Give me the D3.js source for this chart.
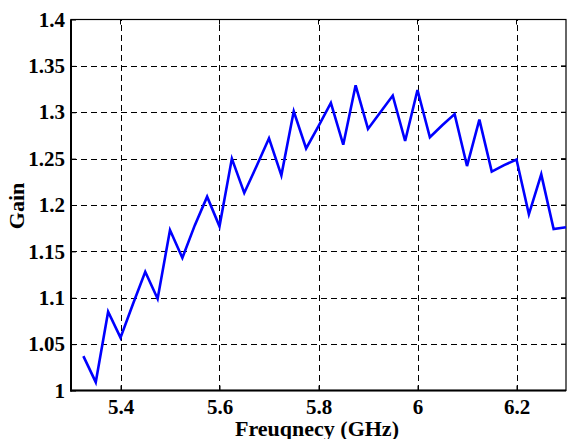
<!DOCTYPE html>
<html>
<head>
<meta charset="utf-8">
<script src="https://cdn.jsdelivr.net/npm/d3@7"></script>
<style>
  body { margin: 0; background: #fff; }
  svg text { font-family: "Liberation Serif", "Times New Roman", serif; font-weight: bold; }
</style>
</head>
<body>
<div id="chart"></div>
<script>
// frequency points (GHz)
const freq = d3.range(40).map(i => +(5.325 + i * 0.025).toFixed(3));
// gain
const gain = [
  1.037, 1.009, 1.085, 1.057, 1.093, 1.128, 1.099, 1.173, 1.143, 1.178,
  1.209, 1.177, 1.250, 1.213, 1.242, 1.272, 1.232, 1.301, 1.261, 1.285,
  1.310, 1.265, 1.329, 1.282, 1.300, 1.318, 1.269, 1.324, 1.273, 1.286,
  1.298, 1.242, 1.292, 1.236, 1.243, 1.249, 1.190, 1.233, 1.174, 1.176
];
const xTicks = [5.4, 5.6, 5.8, 6, 6.2];
const yTicks = [1, 1.05, 1.1, 1.15, 1.2, 1.25, 1.3, 1.35, 1.4];

const W = 567, H = 439;
const m = { left: 71, top: 19.5, right: 1, bottom: 48.5 };

const svg = d3.select("#chart").append("svg")
  .attr("width", W).attr("height", H);

const x = d3.scaleLinear().domain([5.3, 6.3]).range([m.left, W - m.right]);
const y = d3.scaleLinear().domain([1, 1.4]).range([H - m.bottom, m.top]);

//------- grid
const grid = svg.append("g").attr("stroke", "#000").attr("stroke-width", 1)
  .attr("stroke-dasharray", "6,4").attr("shape-rendering", "crispEdges");
grid.selectAll(".gx").data(xTicks).enter().append("line")
  .attr("x1", d => Math.round(x(d)) + 0.5).attr("x2", d => Math.round(x(d)) + 0.5)
  .attr("y1", y(1)).attr("y2", y(1.4));
grid.selectAll(".gy").data(yTicks.slice(1, -1)).enter().append("line")
  .attr("y1", d => Math.round(y(d)) + 0.5).attr("y2", d => Math.round(y(d)) + 0.5)
  .attr("x1", x(5.3)).attr("x2", x(6.3));

//------- axes
const xAxis = d3.axisBottom(x).tickValues(xTicks).tickSizeInner(-5).tickSizeOuter(0)
  .tickPadding(23).tickFormat(d3.format("~g"));
const yAxis = d3.axisLeft(y).tickValues(yTicks).tickSizeInner(-5).tickSizeOuter(0)
  .tickPadding(6).tickFormat(d3.format("~g"));

const gx = svg.append("g").attr("transform", `translate(0,${y(1)})`).call(xAxis);
const gy = svg.append("g").attr("transform", `translate(${x(5.3)},0)`).call(yAxis);
[gx, gy].forEach(g => {
  g.select(".domain").remove();
  g.selectAll("line").attr("stroke", "#000");
  g.selectAll("text").attr("font-size", 21).attr("fill", "#000")
    .style("font-family", '"Liberation Serif", serif').style("font-weight", "bold");
});
gx.selectAll("text").attr("dy", 0);

// right/top ticks (inside)
svg.append("g").selectAll("line").data(yTicks).enter().append("line")
  .attr("x1", x(6.3)).attr("x2", x(6.3) - 5)
  .attr("y1", d => y(d)).attr("y2", d => y(d)).attr("stroke", "#000");
svg.append("g").selectAll("line").data(xTicks).enter().append("line")
  .attr("y1", y(1.4)).attr("y2", y(1.4) + 5)
  .attr("x1", d => x(d)).attr("x2", d => x(d)).attr("stroke", "#000");

// box
svg.append("rect")
  .attr("x", x(5.3)).attr("y", y(1.4))
  .attr("width", x(6.3) - x(5.3)).attr("height", y(1) - y(1.4))
  .attr("fill", "none").attr("stroke", "#000").attr("stroke-width", 1.2);
svg.append("line").attr("x1", x(5.3)).attr("x2", x(5.3)).attr("y1", y(1.4)).attr("y2", y(1) + 1)
  .attr("stroke", "#000").attr("stroke-width", 2);
svg.append("line").attr("x1", x(5.3) - 1).attr("x2", x(6.3)).attr("y1", y(1)).attr("y2", y(1))
  .attr("stroke", "#000").attr("stroke-width", 2);

//------- data line
const line = d3.line().x((d, i) => x(freq[i])).y(d => y(d));
svg.append("path").datum(gain)
  .attr("d", line)
  .attr("fill", "none").attr("stroke", "#0000ff").attr("stroke-width", 2.6)
  .attr("stroke-linejoin", "miter");

//------- labels
svg.append("text").attr("x", 317).attr("y", 436)
  .attr("text-anchor", "middle").attr("font-size", 22).text("Freuqnecy (GHz)");
svg.append("text").attr("transform", "translate(24,206) rotate(-90)")
  .attr("text-anchor", "middle").attr("font-size", 22).text("Gain");
</script>
</body>
</html>
